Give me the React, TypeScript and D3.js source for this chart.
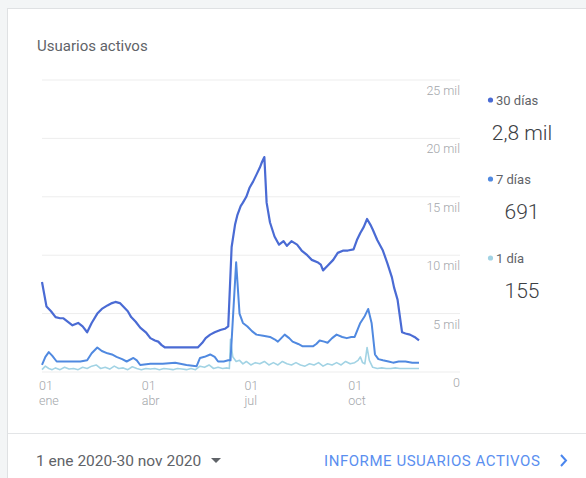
import React from "react";
import * as d3 from "d3";

// ---- data (day offset from 1 Jan 2020, users in thousands) ----
const days30 = [0, 4, 8, 12, 16, 19, 23, 27, 32, 36, 40, 44, 49, 53, 58, 62, 65, 69, 72, 76, 79, 83, 87, 92, 96, 100, 103, 106, 109, 114, 120, 126, 131, 138, 142, 145, 149, 153, 158, 162, 165, 168, 171, 173, 176, 178, 181, 184, 187, 190, 193, 195, 197, 199, 202, 206, 210, 214, 217, 221, 226, 230, 235, 239, 244, 247, 249, 253, 258, 262, 267, 271, 276, 279, 282, 285, 288, 291, 293, 297, 302, 306, 310, 312, 315, 319, 322, 326, 330, 334];
const users30 = [7.7, 5.6, 5.2, 4.7, 4.6, 4.6, 4.3, 4.0, 4.2, 3.9, 3.4, 4.2, 5.0, 5.4, 5.7, 5.9, 6.0, 5.9, 5.6, 5.2, 4.7, 4.3, 3.8, 3.4, 2.9, 2.7, 2.6, 2.3, 2.1, 2.1, 2.1, 2.1, 2.1, 2.1, 2.5, 2.9, 3.2, 3.4, 3.6, 3.7, 3.9, 10.7, 12.6, 13.4, 14.2, 14.5, 15.0, 15.8, 16.3, 16.9, 17.5, 18.0, 18.4, 14.5, 12.8, 11.6, 10.9, 11.2, 10.8, 11.2, 10.9, 10.4, 10.0, 9.6, 9.4, 9.2, 8.7, 9.1, 9.6, 10.2, 10.4, 10.4, 10.5, 11.3, 11.9, 12.4, 13.1, 12.6, 12.2, 11.3, 10.4, 9.3, 8.1, 7.2, 6.2, 3.4, 3.3, 3.2, 3.0, 2.7];

const days7 = [0, 3, 6, 9, 13, 18, 25, 34, 40, 44, 49, 53, 58, 62, 66, 71, 75, 81, 84, 87, 96, 107, 118, 128, 137, 140, 144, 149, 153, 156, 161, 165, 167, 172, 175, 178, 182, 186, 190, 196, 202, 206, 209, 212, 215, 219, 222, 227, 231, 236, 240, 243, 246, 250, 253, 257, 261, 266, 270, 274, 277, 282, 286, 289, 292, 295, 298, 302, 307, 311, 316, 322, 328, 334];
const users7 = [0.6, 1.3, 1.7, 1.4, 0.9, 0.9, 0.9, 0.9, 1.0, 1.6, 2.1, 1.8, 1.6, 1.5, 1.3, 1.1, 0.9, 1.2, 1.0, 0.6, 0.7, 0.7, 0.8, 0.6, 0.5, 1.2, 1.3, 1.5, 1.3, 0.9, 0.9, 1.0, 1.0, 9.4, 5.0, 4.2, 3.9, 3.5, 3.2, 3.1, 3.0, 2.8, 2.6, 2.9, 3.2, 2.9, 2.6, 2.4, 2.2, 2.2, 2.2, 2.4, 2.7, 2.6, 2.5, 2.9, 3.2, 3.0, 2.9, 3.0, 3.0, 4.2, 4.8, 5.4, 4.2, 1.5, 1.1, 1.0, 0.9, 0.8, 0.9, 0.9, 0.8, 0.8];

const days1 = [0, 3, 6, 9, 12, 16, 20, 24, 28, 32, 36, 40, 44, 48, 52, 56, 60, 64, 68, 72, 76, 80, 84, 88, 92, 96, 100, 104, 108, 112, 116, 120, 124, 128, 132, 136, 140, 144, 148, 152, 156, 160, 164, 166, 167, 169, 172, 175, 178, 181, 185, 189, 193, 197, 201, 205, 209, 213, 217, 221, 225, 229, 233, 237, 241, 245, 249, 253, 257, 261, 265, 269, 273, 277, 280, 282, 284, 286, 288, 290, 293, 297, 301, 305, 309, 313, 317, 321, 325, 329, 334];
const users1 = [0.2, 0.5, 0.3, 0.2, 0.35, 0.2, 0.4, 0.25, 0.3, 0.2, 0.4, 0.3, 0.5, 0.6, 0.3, 0.4, 0.25, 0.5, 0.3, 0.35, 0.2, 0.45, 0.3, 0.2, 0.3, 0.25, 0.3, 0.2, 0.3, 0.25, 0.2, 0.3, 0.25, 0.2, 0.3, 0.2, 0.5, 0.4, 0.6, 0.3, 0.4, 0.3, 0.35, 0.3, 2.8, 1.3, 0.9, 1.0, 0.7, 0.9, 0.6, 0.8, 0.7, 0.9, 0.6, 0.8, 0.6, 0.9, 0.7, 0.6, 0.8, 0.6, 0.5, 0.7, 0.6, 0.8, 0.5, 0.7, 0.6, 0.8, 0.6, 0.9, 0.7, 0.8, 1.0, 1.3, 0.8, 0.7, 2.1, 1.0, 0.4, 0.3, 0.35, 0.3, 0.3, 0.35, 0.3, 0.3, 0.3, 0.3, 0.3];

const yTicks = [0, 5000, 10000, 15000, 20000, 25000];
const yTickLabels = ["0", "5 mil", "10 mil", "15 mil", "20 mil", "25 mil"];
const xTickDates = ["2020-01-01", "2020-04-01", "2020-07-01", "2020-10-01"];
const xTickMonths = ["ene", "abr", "jul", "oct"];

const legendNames = ["30 días", "7 días", "1 día"];
const legendValues = ["2,8 mil", "691", "155"];
const colors = ["#4a6bd4", "#5089e0", "#a2d3e4"];

const title = "Usuarios activos";
const rangeText = "1 ene 2020-30 nov 2020";
const linkText = "INFORME USUARIOS ACTIVOS";

const start = new Date(2020, 0, 1);
const toDate = (d: number) => d3.timeDay.offset(start, d);

export default function App() {
  const x = d3.scaleTime().domain([start, new Date(2020, 10, 30)]).range([42, 419]);
  const y = d3.scaleLinear().domain([0, 25000]).range([372, 80]);
  const line = d3
    .line<[number, number]>()
    .x((d) => x(toDate(d[0])))
    .y((d) => y(d[1] * 1000));

  const series = [
    { days: days1, vals: users1, color: colors[2], w: 1.6 },
    { days: days7, vals: users7, color: colors[1], w: 2 },
    { days: days30, vals: users30, color: colors[0], w: 2.2 },
  ];

  const font = "Roboto, 'Noto Sans', Arial, sans-serif";

  return (
    <svg
      width={586}
      height={478}
      style={{ position: "fixed", left: 0, top: 0, fontFamily: font }}
    >
      <rect x={0} y={0} width={586} height={478} fill="#f3f5f6" />
      <rect x={7.5} y={8.5} width={600} height={500} fill="#ffffff" stroke="#dfe1e3" />

      <text x={37} y={51} fontSize={15} fill="#5f6368">
        {title}
      </text>

      {yTicks.map((t, i) => (
        <g key={t}>
          <line x1={42} x2={460} y1={y(t)} y2={y(t)} stroke="#ededed" strokeWidth={1} />
          <text x={460} y={y(t) + 15} fontSize={12.5} fill="#a3a6aa" textAnchor="end" fontWeight={300}>
            {yTickLabels[i]}
          </text>
        </g>
      ))}

      {xTickDates.map((s, i) => {
        const xx = x(d3.timeParse("%Y-%m-%d")(s) as Date);
        return (
          <g key={s} fill="#a3a6aa" fontSize={12.5} fontWeight={300}>
            <text x={xx - 3} y={390}>01</text>
            <text x={xx - 3} y={405}>{xTickMonths[i]}</text>
          </g>
        );
      })}

      {series.map((s, i) => (
        <path
          key={i}
          d={line(s.days.map((d, j) => [d, s.vals[j]] as [number, number])) || ""}
          fill="none"
          stroke={s.color}
          strokeWidth={s.w}
          strokeLinejoin="round"
        />
      ))}

      {legendNames.map((n, i) => {
        const cy = 100 + i * 79;
        return (
          <g key={n}>
            <circle cx={490.5} cy={cy} r={2.6} fill={colors[i]} />
            <text x={496} y={cy + 4.5} fontSize={13} fill="#5f6368">
              {n}
            </text>
            <text x={522} y={cy + 40} fontSize={21} fill="#3c4043" textAnchor="middle" fontWeight={300}>
              {legendValues[i]}
            </text>
          </g>
        );
      })}

      <line x1={8} x2={586} y1={433.5} y2={433.5} stroke="#e3e5e7" />
      <text x={36} y={466} fontSize={15.5} fill="#5f6368">
        {rangeText}
      </text>
      <path d="M211,458 L221,458 L216,463 Z" fill="#5f6368" />
      <text x={324} y={466} fontSize={15} fill="#5b8ff0" letterSpacing={0.55}>
        {linkText}
      </text>
      <path d="M561,455 L566,460.5 L561,466" fill="none" stroke="#4a86ee" strokeWidth={2} />
    </svg>
  );
}
